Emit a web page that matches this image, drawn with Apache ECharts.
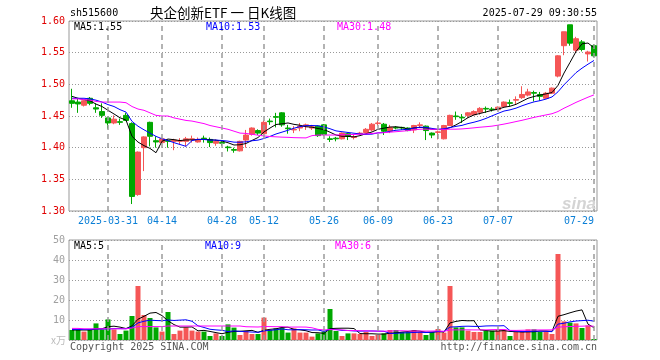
<!DOCTYPE html>
<html><head><meta charset="utf-8">
<script src="https://cdn.jsdelivr.net/npm/echarts@6/dist/echarts.min.js"></script>
<style>html,body{margin:0;padding:0;background:#fff}#c{width:660px;height:360px}</style>
</head><body><div id="c"></div>
<script>
// ---- data ----
const dates = [
'2025-03-21','2025-03-24','2025-03-25','2025-03-26','2025-03-27','2025-03-28','2025-03-31',
'2025-04-01','2025-04-02','2025-04-03','2025-04-07','2025-04-08','2025-04-09','2025-04-10','2025-04-11',
'2025-04-14','2025-04-15','2025-04-16','2025-04-17','2025-04-18','2025-04-21','2025-04-22','2025-04-23',
'2025-04-24','2025-04-25','2025-04-28','2025-04-29','2025-04-30',
'2025-05-06','2025-05-07','2025-05-08','2025-05-09','2025-05-12','2025-05-13','2025-05-14','2025-05-15',
'2025-05-16','2025-05-19','2025-05-20','2025-05-21','2025-05-22','2025-05-23','2025-05-26','2025-05-27',
'2025-05-28','2025-05-29','2025-05-30',
'2025-06-03','2025-06-04','2025-06-05','2025-06-06','2025-06-09','2025-06-10','2025-06-11','2025-06-12',
'2025-06-13','2025-06-16','2025-06-17','2025-06-18','2025-06-19','2025-06-20','2025-06-23','2025-06-24',
'2025-06-25','2025-06-26','2025-06-27','2025-06-30',
'2025-07-01','2025-07-02','2025-07-03','2025-07-04','2025-07-07','2025-07-08','2025-07-09','2025-07-10',
'2025-07-11','2025-07-14','2025-07-15','2025-07-16','2025-07-17','2025-07-18','2025-07-21','2025-07-22',
'2025-07-23','2025-07-24','2025-07-25','2025-07-28','2025-07-29'];

const opens = [
1.474,1.472,1.467,1.478,1.463,1.457,1.447,1.439,1.441,1.451,
1.438,1.326,1.400,1.440,1.411,1.408,1.411,1.410,1.410,1.410,
1.413,1.409,1.415,1.413,1.407,1.408,1.401,1.397,1.395,1.412,
1.421,1.427,1.422,1.442,1.449,1.455,1.431,1.428,1.431,1.434,
1.431,1.434,1.436,1.414,1.415,1.414,1.422,1.416,1.422,1.424,
1.428,1.438,1.437,1.426,1.432,1.432,1.431,1.428,1.435,1.434,
1.423,1.424,1.414,1.435,1.450,1.448,1.451,1.452,1.456,1.462,
1.461,1.460,1.465,1.471,1.475,1.479,1.483,1.487,1.484,1.478,
1.486,1.513,1.561,1.594,1.554,1.567,1.548,1.561];
const closes = [
1.470,1.469,1.474,1.470,1.461,1.451,1.439,1.445,1.440,1.443,
1.323,1.393,1.417,1.418,1.409,1.414,1.410,1.412,1.411,1.414,
1.414,1.413,1.414,1.408,1.410,1.407,1.400,1.396,1.410,1.420,
1.431,1.423,1.440,1.441,1.448,1.436,1.430,1.429,1.434,1.436,
1.433,1.419,1.421,1.413,1.414,1.423,1.418,1.417,1.423,1.429,
1.437,1.439,1.426,1.432,1.431,1.431,1.427,1.435,1.436,1.427,
1.420,1.425,1.435,1.451,1.449,1.447,1.455,1.457,1.462,1.461,
1.460,1.464,1.472,1.470,1.476,1.484,1.488,1.486,1.481,1.486,
1.494,1.545,1.583,1.565,1.572,1.555,1.551,1.545];
const lows = [
1.463,1.455,1.465,1.467,1.455,1.447,1.430,1.437,1.436,1.442,
1.311,1.324,1.363,1.402,1.400,1.406,1.400,1.396,1.405,1.402,
1.408,1.408,1.408,1.401,1.403,1.403,1.394,1.392,1.394,1.400,
1.419,1.420,1.421,1.436,1.432,1.433,1.422,1.423,1.426,1.428,
1.428,1.417,1.419,1.409,1.410,1.413,1.412,1.413,1.420,1.423,
1.426,1.435,1.420,1.423,1.429,1.428,1.426,1.423,1.432,1.412,
1.415,1.413,1.413,1.434,1.444,1.439,1.447,1.451,1.452,1.455,
1.457,1.459,1.463,1.465,1.468,1.477,1.481,1.473,1.474,1.477,
1.485,1.511,1.546,1.561,1.550,1.552,1.536,1.543];
const highs = [
1.493,1.478,1.476,1.480,1.470,1.470,1.449,1.451,1.446,1.455,
1.440,1.394,1.418,1.441,1.418,1.416,1.413,1.414,1.415,1.417,
1.419,1.416,1.419,1.416,1.413,1.410,1.403,1.400,1.411,1.428,
1.432,1.429,1.443,1.446,1.455,1.456,1.436,1.434,1.439,1.438,
1.436,1.435,1.437,1.418,1.417,1.424,1.424,1.420,1.425,1.431,
1.439,1.442,1.439,1.436,1.434,1.433,1.432,1.436,1.440,1.435,
1.424,1.427,1.436,1.452,1.457,1.453,1.456,1.459,1.464,1.465,
1.464,1.465,1.473,1.476,1.481,1.497,1.493,1.490,1.488,1.488,
1.495,1.546,1.583,1.594,1.575,1.570,1.553,1.563];
// volume, unit: 万
const volumes = [
5,5,4.2,5.3,8.3,5.3,10.3,5.3,3,4.7,
12,27,12.5,11,6.3,4.2,14,3,4.7,6.3,
4.7,4.2,4.2,2,3.3,2,7.8,6.2,2.5,4.5,
3,3,11.2,5,5.8,6.3,3.7,5.8,3.7,3.7,
1.7,3.3,4.2,15.5,4.5,2,3.3,3.3,3,4,
2,2.5,3.3,5,5,4,4,5,4,2.5,
4,5.5,3.7,27,6.3,6.3,4.7,4,4,4.7,
4.7,5,5,2,4,4,5.3,5.3,4,4,
3,43,9.3,8.7,8.3,6,7.3,0.5];

// moving-average values visible before a full window of this chart's days exists
const ma5Head = [1.481,1.478,1.476,1.474];
const ma10Head = [1.478,1.478,1.478,1.477,1.475,1.472,1.468,1.465,1.460];
const ma30Head = [1.477,1.477,1.476,1.475,1.473,1.472,1.472,1.472,1.472,1.471,
  1.465,1.461,1.459,1.455,1.451,1.450,1.450,1.447,1.445,1.443,
  1.442,1.440,1.438,1.435,1.433,1.431,1.429,1.426,1.423];
const vma5Head = [5,5,5,5];
const vma10Head = [5.3,5.3,5.3,5.3,5.5,5.5,5.5,5.7,5.7];
const vma30Head = [5.8,5.8,5.6,5.6,5.6,5.6,5.6,5.6,5.6,5.6,
  6.0,6.7,6.7,6.7,6.7,6.7,7.0,7.0,7.0,7.0,
  7.0,7.0,7.0,7.0,7.0,7.0,7.0,7.0,7.0];

const tickDates = ['2025-03-31','2025-04-14','2025-04-28','2025-05-12','2025-05-26',
  '2025-06-09','2025-06-23','2025-07-07','2025-07-29'];
const priceMaLabels = ['MA5:1.55','MA10:1.53','MA30:1.48'];
const volMaLabels = ['MA5:5','MA10:9','MA30:6'];
const titleTexts = ['sh515600','央企创新ETF 一 日K线图','2025-07-29 09:30:55'];

// ---- build ----
function movingAvg(vals, n, head) {
  return vals.map((v, i) => {
    if (i < n - 1) return head[i];
    let s = 0;
    for (let k = i - n + 1; k <= i; k++) s += vals[k];
    return +(s / n).toFixed(4);
  });
}
const UP = '#f55656', DOWN = '#00a800';
const MONO = '"DejaVu Sans Mono","Liberation Mono",monospace';
const kData = dates.map((d, i) => [opens[i], closes[i], lows[i], highs[i]]);
const volData = volumes.map((v, i) => ({
  value: v,
  itemStyle: { color: closes[i] >= opens[i] ? UP : DOWN }
}));
const isTick = (idx, val) => tickDates.indexOf(val) >= 0;
const dateLines = {
  silent: true, symbol: ['none', 'none'], animation: false, precision: 4,
  label: { show: false }, emphasis: { disabled: true },
  lineStyle: { color: '#9a9a9a', type: [5, 4], width: 1.5, opacity: 1 },
  data: tickDates.map(d => ({ xAxis: d }))
};
const hSplit = { show: true, lineStyle: { color: '#999', type: [1, 2], width: 1 } };

const maColors = ['#000000', '#0000ff', '#ff00ff'];
function lineSeries(name, data, color, xi, yi) {
  return { name, type: 'line', data, xAxisIndex: xi, yAxisIndex: yi, symbol: 'none',
    lineStyle: { color, width: 1 }, itemStyle: { color }, animation: false, silent: true, z: 3 };
}
const textEl = (text, x, y, font, fill, align) => ({
  type: 'text', x, y, silent: true, z: 100,
  style: { text, font, fill, textAlign: align || 'left', textVerticalAlign: 'middle', verticalAlign: 'middle' }
});

const chart = echarts.init(document.getElementById('c'), null, { renderer: 'canvas' });
chart.setOption({
  animation: false,
  backgroundColor: '#fff',
  grid: [
    { left: 69, top: 21, width: 528, height: 190, show: true, borderColor: '#999', borderWidth: 1, backgroundColor: 'transparent' },
    { left: 69, top: 240, width: 528, height: 100, show: true, borderColor: '#999', borderWidth: 1, backgroundColor: 'transparent' }
  ],
  xAxis: [
    { type: 'category', data: dates, gridIndex: 0, boundaryGap: true,
      axisLine: { show: false }, axisTick: { show: false },
      axisLabel: { interval: isTick, color: '#0b7fd6', fontFamily: MONO, fontSize: 10, margin: 5,
        alignMaxLabel: 'right', showMaxLabel: true,
        formatter: v => v === tickDates[0] ? v : v.slice(5) },
      splitLine: { show: false } },
    { type: 'category', data: dates, gridIndex: 1, boundaryGap: true,
      axisLine: { show: false }, axisTick: { show: false }, axisLabel: { show: false },
      splitLine: { show: false } }
  ],
  yAxis: [
    { type: 'value', gridIndex: 0, min: 1.30, max: 1.60, interval: 0.05, scale: true,
      axisLine: { show: false }, axisTick: { show: false },
      axisLabel: { color: '#e00000', fontFamily: MONO, fontSize: 10, margin: 4, formatter: v => v.toFixed(2) },
      splitLine: hSplit },
    { type: 'value', gridIndex: 1, min: 0, max: 50, interval: 10,
      axisLine: { show: false }, axisTick: { show: false },
      axisLabel: { color: '#a0a0a0', fontFamily: MONO, fontSize: 10, margin: 4, showMinLabel: false },
      splitLine: hSplit }
  ],
  series: [
    { type: 'candlestick', data: kData, xAxisIndex: 0, yAxisIndex: 0, barWidth: 5,
      itemStyle: { color: UP, color0: DOWN, borderColor: UP, borderColor0: DOWN, borderColorDoji: DOWN, borderWidth: 1 },
      silent: true, z: 2, markLine: dateLines },
    lineSeries('MA5', movingAvg(closes, 5, ma5Head), maColors[0], 0, 0),
    lineSeries('MA10', movingAvg(closes, 10, ma10Head), maColors[1], 0, 0),
    lineSeries('MA30', movingAvg(closes, 30, ma30Head), maColors[2], 0, 0),
    { type: 'bar', data: volData, xAxisIndex: 1, yAxisIndex: 1, barWidth: 5, silent: true, z: 2, markLine: dateLines },
    lineSeries('VMA5', movingAvg(volumes, 5, vma5Head), maColors[0], 1, 1),
    lineSeries('VMA10', movingAvg(volumes, 10, vma10Head), maColors[1], 1, 1),
    lineSeries('VMA30', movingAvg(volumes, 30, vma30Head), maColors[2], 1, 1)
  ],
  graphic: [
    textEl(titleTexts[0], 70, 13, '10px ' + MONO, '#000'),
    textEl(titleTexts[1], 150, 13, '13.5px "Noto Sans CJK SC"', '#000'),
    textEl(titleTexts[2], 597, 13, '10px ' + MONO, '#000', 'right'),
    textEl(priceMaLabels[0], 74, 27, '10px ' + MONO, maColors[0]),
    textEl(priceMaLabels[1], 206, 27, '10px ' + MONO, maColors[1]),
    textEl(priceMaLabels[2], 337, 27, '10px ' + MONO, maColors[2]),
    textEl(volMaLabels[0], 74, 246, '10px ' + MONO, maColors[0]),
    textEl(volMaLabels[1], 205, 246, '10px ' + MONO, maColors[1]),
    textEl(volMaLabels[2], 335, 246, '10px ' + MONO, maColors[2]),
    textEl('x万', 66, 340, '10px "Noto Sans CJK SC"', '#bbbbbb', 'right'),
    textEl('Copyright 2025 SINA.COM', 70, 347, '10px ' + MONO, '#555'),
    textEl('http://finance.sina.com.cn', 597, 347, '10px ' + MONO, '#555', 'right'),
    textEl('sina', 596, 204, 'italic bold 17px "Liberation Sans"', '#d4d4d4', 'right')
  ]
});
</script></body></html>
